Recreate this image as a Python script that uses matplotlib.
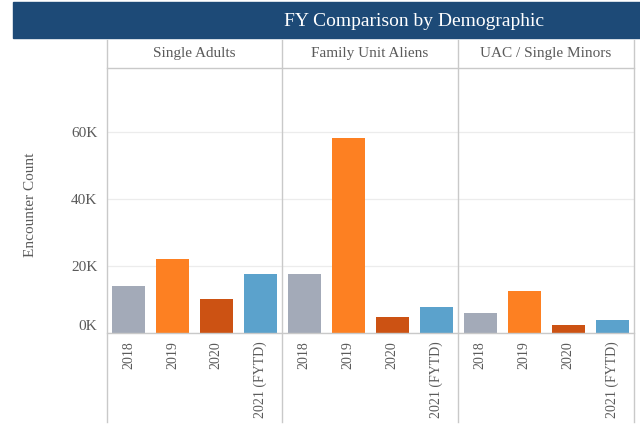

###############
## Libraries ##
###############

import numpy as np
import matplotlib as mpl
mpl.use("Agg")
import matplotlib.pyplot as plt
from matplotlib.patches import Rectangle
from matplotlib.lines import Line2D


##########
## Data ##
##########

groups = [ "Single Adults" , "Family Unit Aliens" , "UAC / Single Minors" ]
years  = [ "2018" , "2019" , "2020" , "2021 (FYTD)" ]

single_adults = [ 13900 , 22100 , 10100 , 17500 ]
family_units  = [ 17500 , 58200 ,  4800 ,  7800 ]
uac_minors    = [  6000 , 12400 ,  2500 ,  4000 ]

values = [ single_adults , family_units , uac_minors ]

colors = [ "#a3aab8" , "#fd8022" , "#cc5213" , "#5ba2cc" ]
yticks = [ 0 , 20000 , 40000 , 60000 ]
ylabels = [ "0K" , "20K" , "40K" , "60K" ]


##########
## Plot ##
##########

W,H = 640,430
fig = plt.figure( figsize = ( W / 100 , H / 100 ) , dpi = 100 )
plt.rcParams["font.family"] = [ "Liberation Serif" , "DejaVu Serif" ]

def fx(px): return px / W
def fy(py): return 1 - py / H

txtcol  = "#5a5a5a"
linecol = "#c9c9c9"

## Banner
fig.patches.append( Rectangle( ( fx(13) , fy(38) ) , 1 - fx(13) , fy(2) - fy(38) , transform = fig.transFigure , color = "#1d4a77" , zorder = 0 ) )
fig.text( fx(414) , fy(21) , "FY Comparison by Demographic" , color = "white" , fontsize = 14 , ha = "center" , va = "center" )

## Panels
edges = [ 107 , 282 , 458 , 634 ]
top , bottom = 68 , 333
ymax = 79000

for i,g in enumerate(groups):
	ax = fig.add_axes( [ fx(edges[i]) , fy(bottom) , fx(edges[i+1] - edges[i]) , fy(top) - fy(bottom) ] )
	ax.bar( np.arange(len(years)) , values[i] , width = 0.75 , color = colors , zorder = 2 )
	ax.set_xlim( -0.5 , 3.5 )
	ax.set_ylim( 0 , ymax )
	for s in ax.spines.values():
		s.set_visible(False)
	ax.set_yticks( yticks )
	ax.yaxis.grid( True , color = "#ececec" , linewidth = 0.9 , zorder = 0 )
	ax.tick_params( axis = "both" , length = 0 , labelsize = 11 , colors = txtcol )
	if i == 0:
		lbls = ax.set_yticklabels( ylabels )
		lbls[0].set_va( "bottom" )  # tableau lifts the zero label above the axis
		ax.tick_params( axis = "y" , pad = 7 )
	else:
		ax.set_yticklabels( [] )
	ax.set_xticks( np.arange(len(years)) )
	ax.set_xticklabels( years , rotation = 90 , va = "top" , fontsize = 10 )
	ax.tick_params( axis = "x" , pad = 6 )
	ax.set_facecolor( "none" )
	fig.text( fx( ( edges[i] + edges[i+1] ) / 2 ) , fy(54) , g , fontsize = 11 , color = txtcol , ha = "center" , va = "center" )

fig.text( fx(31) , fy(205) , "Encounter Count" , fontsize = 11 , color = txtcol , rotation = 90 , ha = "center" , va = "center" )

## Divider lines
for e in edges:
	fig.lines.append( Line2D( [ fx(e) , fx(e) ] , [ fy(40) , fy(422) ] , transform = fig.transFigure , color = linecol , linewidth = 1 ) )
fig.lines.append( Line2D( [ fx(edges[0]) , fx(edges[-1]) ] , [ fy(top) , fy(top) ] , transform = fig.transFigure , color = linecol , linewidth = 1 ) )
fig.lines.append( Line2D( [ fx(edges[0]) , fx(edges[-1]) ] , [ fy(bottom) , fy(bottom) ] , transform = fig.transFigure , color = linecol , linewidth = 1 ) )

fig.savefig( "out.png" , dpi = 100 )
